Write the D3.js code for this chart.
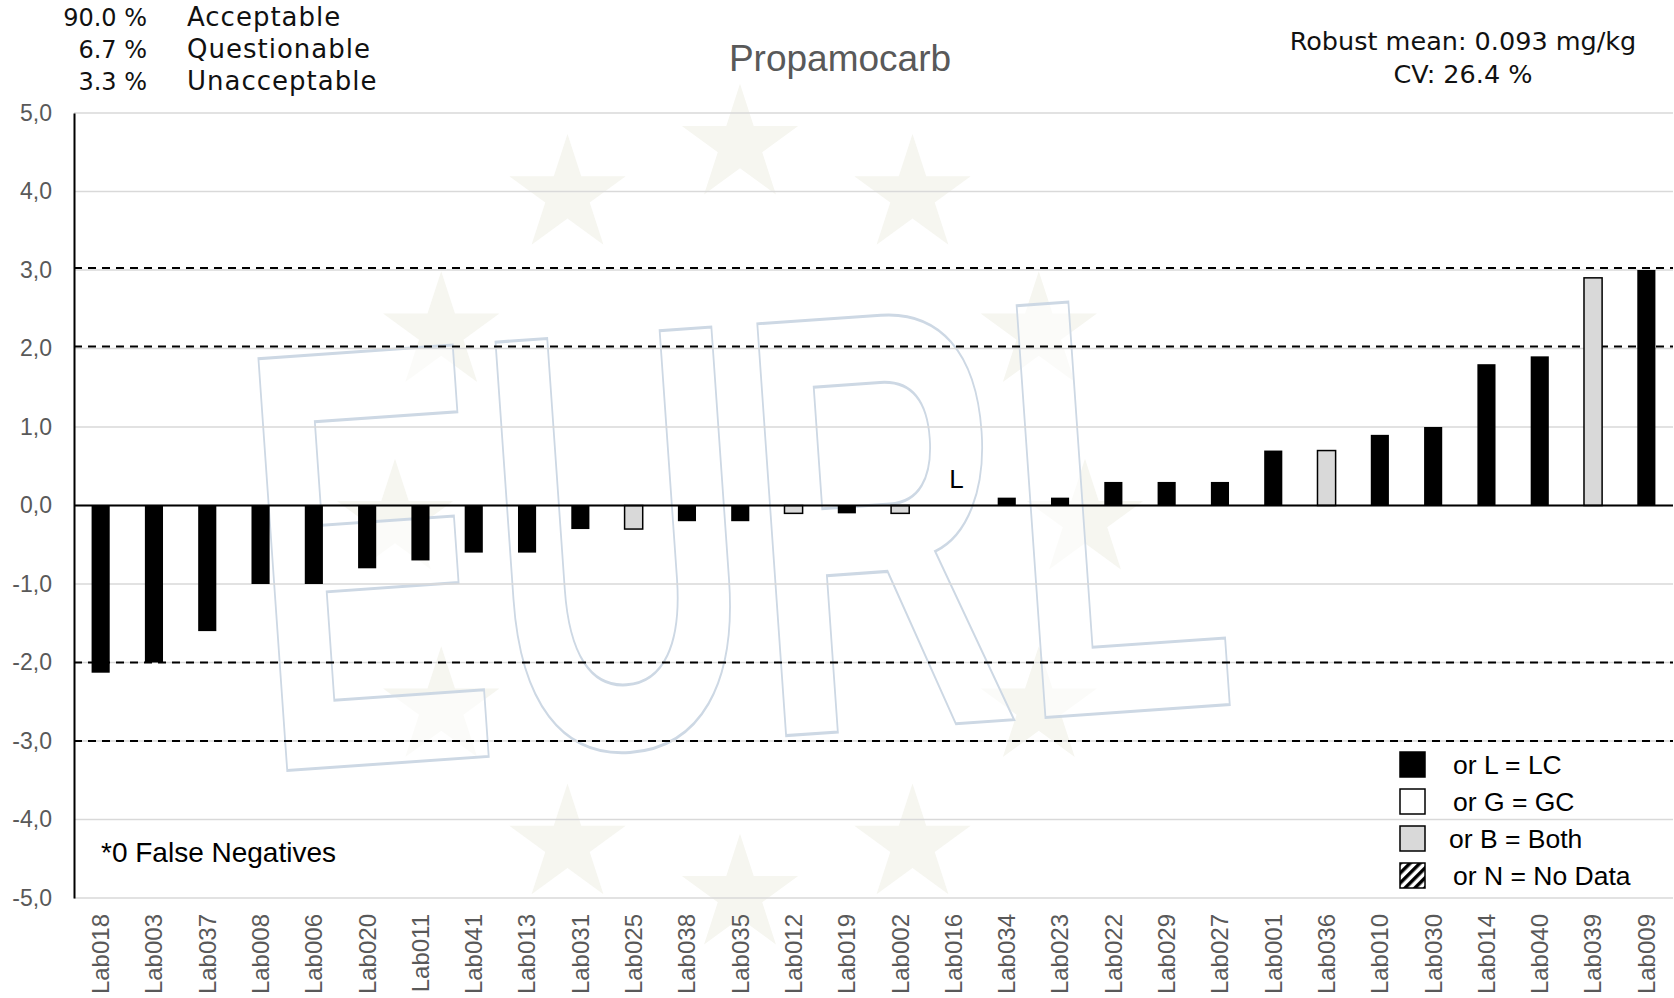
<!DOCTYPE html>
<html>
<head>
<meta charset="utf-8">
<script src="https://cdn.jsdelivr.net/npm/d3@7"></script>
<style>
  body { margin: 0; background: #fff; }
  svg { display: block; }
</style>
</head>
<body>
<div id="chart"></div>
<script>
// lab codes, z-scores and method (L = LC, G = GC, B = both)
var labs = ["Lab018","Lab003","Lab037","Lab008","Lab006","Lab020","Lab011","Lab041","Lab013","Lab031",
            "Lab025","Lab038","Lab035","Lab012","Lab019","Lab002","Lab016","Lab034","Lab023","Lab022",
            "Lab029","Lab027","Lab001","Lab036","Lab010","Lab030","Lab014","Lab040","Lab039","Lab009"];
var zScores = [-2.13,-2.0,-1.6,-1.0,-1.0,-0.8,-0.7,-0.6,-0.6,-0.3,
               -0.3,-0.2,-0.2,-0.1,-0.1,-0.1,null,0.1,0.1,0.3,
               0.3,0.3,0.7,0.7,0.9,1.0,1.8,1.9,2.9,3.0];
var methods = ["L","L","L","L","L","L","L","L","L","L",
               "B","L","L","B","L","B","L","L","L","L",
               "L","L","L","B","L","L","L","L","B","L"];
var yTicks = [-5,-4,-3,-2,-1,0,1,2,3,4,5];
var limits = [-3,-2,2,3];
var summaryPct = ["90.0 %","6.7 %","3.3 %"];
var summaryLabels = ["Acceptable","Questionable","Unacceptable"];
var legendLabels = ["or L = LC","or G = GC","or B = Both","or N = No Data"];
var legendKinds = ["L","G","B","N"];

var width = 1674, height = 998,
    margin = {top: 113, right: 1, bottom: 100, left: 74};

var data = labs.map((d, i) => ({lab: d, z: zScores[i], m: methods[i]}));

var svg = d3.select("#chart").append("svg")
    .attr("width", width)
    .attr("height", height);

var defs = svg.append("defs");
defs.append("pattern")
    .attr("id", "hatch")
    .attr("patternUnits", "userSpaceOnUse")
    .attr("width", 7).attr("height", 7)
    .attr("patternTransform", "rotate(45)")
    .append("rect")
    .attr("width", 3.5).attr("height", 7)
    .attr("fill", "#000");

var xScale = d3.scaleBand()
    .domain(labs)
    .range([margin.left, width - margin.right])
    .paddingInner(0.66)
    .paddingOuter(0.33);
var yScale = d3.scaleLinear()
    .domain([-5, 5])
    .range([height - margin.bottom, margin.top]);

// watermark: ring of stars + outlined EURL letters
var wm = svg.append("g").attr("class", "watermark");
var star = d3.symbol().type(d3.symbolStar).size(4200);
d3.range(12).forEach(i => {
    var a = i * Math.PI / 6;
    wm.append("path")
        .attr("d", star())
        .attr("transform", `translate(${740 + 345 * Math.sin(a)},${520 - 375 * Math.cos(a)})`)
        .attr("fill", "#f6f6f0");
});
wm.append("text")
    .attr("transform", "translate(752,738) rotate(-4) scale(0.6,1)")
    .attr("text-anchor", "middle")
    .style("font-family", "Liberation Sans, Arial, sans-serif")
    .style("font-weight", "bold")
    .style("font-size", "600px")
    .attr("fill", "#fff")
    .attr("fill-opacity", 0.6)
    .attr("stroke", "#cdd8e4")
    .attr("stroke-width", 3)
    .text("EURL");

// gridlines
svg.append("g").selectAll("line")
    .data(yTicks)
    .enter().append("line")
    .attr("x1", margin.left).attr("x2", width - margin.right)
    .attr("y1", d => yScale(d)).attr("y2", d => yScale(d))
    .attr("stroke", "#d9d9d9")
    .attr("stroke-width", 1.5);

// limit lines
svg.append("g").selectAll("line")
    .data(limits)
    .enter().append("line")
    .attr("x1", margin.left).attr("x2", width - margin.right)
    .attr("y1", d => yScale(d) - (d > 0 ? 2 : 0)).attr("y2", d => yScale(d) - (d > 0 ? 2 : 0))
    .attr("stroke", "#000")
    .attr("stroke-width", 2)
    .attr("stroke-dasharray", "8,6");

// bars
svg.append("g").selectAll("rect")
    .data(data.filter(d => d.z !== null))
    .enter().append("rect")
    .attr("x", d => xScale(d.lab))
    .attr("y", d => yScale(Math.max(0, d.z)))
    .attr("width", xScale.bandwidth())
    .attr("height", d => Math.abs(yScale(d.z) - yScale(0)))
    .attr("fill", d => d.m === "B" ? "#d9d9d9" : (d.m === "G" ? "#fff" : "#000"))
    .attr("stroke", "#000")
    .attr("stroke-width", d => d.m === "L" ? 0 : 1.5);

// method letters for labs without a bar
svg.append("g").selectAll("text")
    .data(data.filter(d => d.z === null))
    .enter().append("text")
    .attr("x", d => xScale(d.lab) + xScale.bandwidth() / 2 + 3)
    .attr("y", yScale(0.22))
    .attr("text-anchor", "middle")
    .style("font-family", "Liberation Sans, Arial, sans-serif")
    .style("font-size", "26px")
    .text(d => d.m);

// zero line and y axis line
svg.append("line")
    .attr("x1", margin.left).attr("x2", width - margin.right)
    .attr("y1", yScale(0)).attr("y2", yScale(0))
    .attr("stroke", "#000").attr("stroke-width", 2);

var yAxis = d3.axisLeft(yScale)
    .tickValues(yTicks)
    .tickSize(0)
    .tickPadding(22)
    .tickFormat(d => d3.format(".1f")(d).replace(".", ",").replace("−", "-"));
var yG = svg.append("g")
    .attr("transform", `translate(${margin.left},0)`)
    .call(yAxis);
yG.select(".domain").attr("stroke", "#000").attr("stroke-width", 2);
yG.selectAll("text")
    .attr("fill", "#595959")
    .style("font-family", "Liberation Sans, Arial, sans-serif")
    .style("font-size", "23px");

// x labels
var xAxis = d3.axisBottom(xScale).tickSize(0).tickPadding(0);
var xG = svg.append("g")
    .attr("transform", `translate(0,${height - margin.bottom})`)
    .call(xAxis);
xG.select(".domain").remove();
xG.selectAll("text")
    .attr("transform", "rotate(-90)")
    .attr("x", -16)
    .attr("y", 0)
    .attr("dy", "0.35em")
    .attr("text-anchor", "end")
    .attr("fill", "#595959")
    .style("font-family", "Liberation Sans, Arial, sans-serif")
    .style("font-size", "24px");

// title
svg.append("text")
    .attr("x", 840).attr("y", 71)
    .attr("text-anchor", "middle")
    .attr("fill", "#595959")
    .style("font-family", "Liberation Sans, Arial, sans-serif")
    .style("font-size", "37px")
    .text("Propamocarb");

// summary block top left
var gothic = "DejaVu Sans, sans-serif";
summaryPct.forEach((t, i) => {
    svg.append("text")
        .attr("x", 147).attr("y", 26 + i * 32)
        .attr("text-anchor", "end")
        .style("font-family", gothic).style("font-size", "24px")
        .attr("fill", "#111")
        .text(t);
    svg.append("text")
        .attr("x", 187).attr("y", 26 + i * 32)
        .style("font-family", gothic).style("font-size", "26px")
        .style("letter-spacing", "1px")
        .attr("fill", "#111")
        .text(summaryLabels[i]);
});

// robust mean
svg.append("text")
    .attr("x", 1463).attr("y", 50)
    .attr("text-anchor", "middle")
    .style("font-family", gothic).style("font-size", "25.5px")
    .attr("fill", "#111")
    .text("Robust mean: 0.093 mg/kg");
svg.append("text")
    .attr("x", 1463).attr("y", 83)
    .attr("text-anchor", "middle")
    .style("font-family", gothic).style("font-size", "25.5px")
    .attr("fill", "#111")
    .text("CV: 26.4 %");

// false negatives note
svg.append("text")
    .attr("x", 101).attr("y", 862)
    .style("font-family", "Liberation Sans, Arial, sans-serif")
    .style("font-size", "28px")
    .text("*0 False Negatives");

// legend
var legend = svg.append("g").attr("transform", "translate(1400,752)");
legendKinds.forEach((k, i) => {
    var y = i * 37;
    legend.append("rect")
        .attr("x", 0).attr("y", y)
        .attr("width", 25).attr("height", 25)
        .attr("fill", k === "L" ? "#000" : k === "G" ? "#fff" : k === "B" ? "#d9d9d9" : "url(#hatch)")
        .attr("stroke", "#000").attr("stroke-width", 1.5);
    legend.append("text")
        .attr("x", k === "B" ? 49 : 53).attr("y", y + 22)
        .style("font-family", "Liberation Sans, Arial, sans-serif")
        .style("font-size", "26.5px")
        .text(legendLabels[i]);
});
</script>
</body>
</html>
